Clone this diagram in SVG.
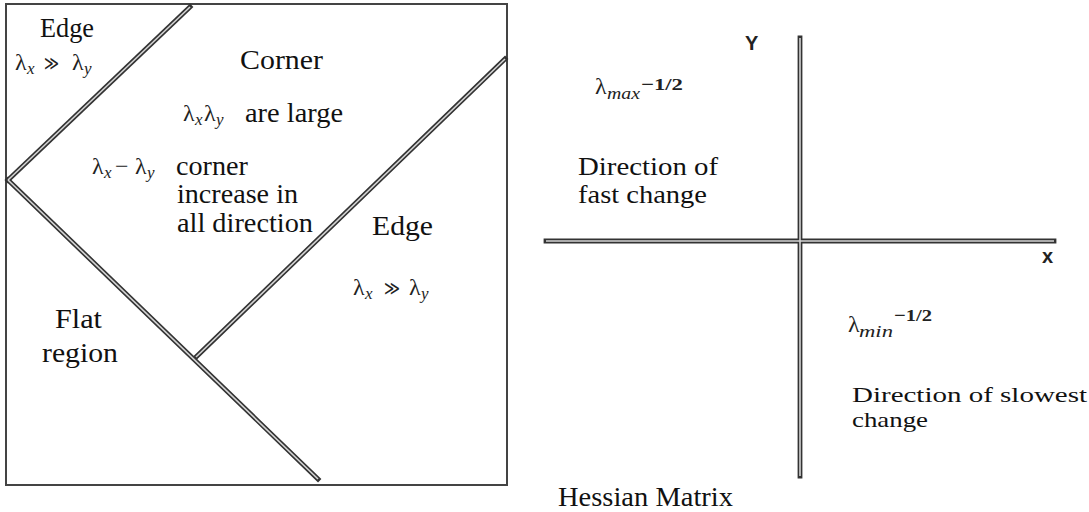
<svg xmlns="http://www.w3.org/2000/svg" xmlns:xlink="http://www.w3.org/1999/xlink" width="1089" height="512" viewBox="0 0 1089 512">
<style>
.t{font-family:"Liberation Serif","Times New Roman","DejaVu Serif",serif;font-size:27px;fill:#111}
.r{font-size:25px}
.q{font-size:22px}
.m{font-family:"Liberation Serif","Times New Roman","DejaVu Serif",serif;font-size:24px;fill:#222}
.s{font-family:"Liberation Serif","Times New Roman","DejaVu Serif",serif;font-style:italic;font-size:17px;fill:#222}
.p{font-family:"Liberation Serif","Times New Roman","DejaVu Serif",serif;font-size:17px;font-weight:bold;fill:#222}
.g{font-family:"DejaVu Sans","Liberation Sans",sans-serif;font-size:20px;fill:#222}
.ax{font-family:"Liberation Sans",Arial,sans-serif;font-size:20px;font-weight:bold;fill:#222}
.o{fill:none;stroke:#333;stroke-width:4.8;stroke-linecap:square}
.i{fill:none;stroke:#d4d4d4;stroke-width:1.6;stroke-linecap:butt}
.box{fill:#fff;stroke:#444;stroke-width:2}
</style>
<defs>
<path id="l1" d="M190,7 L8,180"/>
<path id="l2" d="M8,180 L318,479"/>
<path id="l3" d="M196,357 L505,59"/>
<path id="ay" d="M800,38 L800,476"/>
<path id="ax" d="M546,241 L1054,241"/>
</defs>
<rect width="1089" height="512" fill="#fff"/>
<rect id="frame" class="box" x="6" y="4" width="501" height="481"/>
<g id="connectors">
<use xlink:href="#l1" class="o"/><use xlink:href="#l2" class="o"/><use xlink:href="#l3" class="o"/>
<use xlink:href="#l1" class="i"/><use xlink:href="#l2" class="i"/><use xlink:href="#l3" class="i"/>
<use xlink:href="#ay" class="o"/><use xlink:href="#ax" class="o"/>
<use xlink:href="#ay" class="i"/><use xlink:href="#ax" class="i"/>
</g>
<g id="edge-top-left">
<text class="t" x="40" y="37" textLength="54" lengthAdjust="spacingAndGlyphs">Edge</text>
<text class="m" x="15" y="70">λ</text><text class="s" x="27" y="74">x</text>
<text class="g" x="44" y="70" textLength="15" lengthAdjust="spacingAndGlyphs">≫</text>
<text class="m" x="72" y="70">λ</text><text class="s" x="84" y="74">y</text>
</g>
<g id="corner">
<text class="t" x="240" y="69" textLength="83" lengthAdjust="spacingAndGlyphs">Corner</text>
<text class="m" x="183" y="121">λ</text><text class="s" x="195" y="125">x</text>
<text class="m" x="204" y="121">λ</text><text class="s" x="216" y="125">y</text>
<text class="t" x="245" y="122" textLength="98" lengthAdjust="spacingAndGlyphs">are large</text>
<text class="m" x="92" y="174">λ</text><text class="s" x="104" y="178">x</text>
<text class="m" x="115" y="174">−</text>
<text class="m" x="135" y="174">λ</text><text class="s" x="147" y="178">y</text>
<text class="t" x="176" y="175" textLength="72" lengthAdjust="spacingAndGlyphs">corner</text>
<text class="t" x="177" y="203" textLength="121" lengthAdjust="spacingAndGlyphs">increase in</text>
<text class="t" x="177" y="232" textLength="136" lengthAdjust="spacingAndGlyphs">all direction</text>
</g>
<g id="edge-right">
<text class="t" x="372" y="235" textLength="61" lengthAdjust="spacingAndGlyphs">Edge</text>
<text class="m" x="353" y="295">λ</text><text class="s" x="365" y="299">x</text>
<text class="g" x="384" y="295" textLength="16" lengthAdjust="spacingAndGlyphs">≫</text>
<text class="m" x="409" y="295">λ</text><text class="s" x="421" y="299">y</text>
</g>
<g id="flat-region">
<text class="t" x="55" y="328" textLength="47" lengthAdjust="spacingAndGlyphs">Flat</text>
<text class="t" x="42" y="362" textLength="76" lengthAdjust="spacingAndGlyphs">region</text>
</g>
<g id="axis-labels">
<text class="ax" x="745" y="50">Y</text>
<text class="ax" x="1042" y="263">x</text>
</g>
<g id="fast-change">
<text class="m" x="595" y="94">λ</text>
<text class="s" x="607" y="99" textLength="33" lengthAdjust="spacingAndGlyphs">max</text>
<text class="p" x="641" y="90" textLength="42" lengthAdjust="spacingAndGlyphs">−1/2</text>
<text class="t r" x="578" y="175" textLength="140" lengthAdjust="spacingAndGlyphs">Direction of</text>
<text class="t r" x="578" y="203" textLength="129" lengthAdjust="spacingAndGlyphs">fast change</text>
</g>
<g id="slow-change">
<text class="m" x="848" y="332">λ</text>
<text class="s" x="859" y="337" textLength="34" lengthAdjust="spacingAndGlyphs">min</text>
<text class="p" x="894" y="321" textLength="38" lengthAdjust="spacingAndGlyphs">−1/2</text>
<text class="t q" x="852" y="402" textLength="235" lengthAdjust="spacingAndGlyphs">Direction of slowest</text>
<text class="t q" x="852" y="427" textLength="76" lengthAdjust="spacingAndGlyphs">change</text>
</g>
<g id="title">
<text class="t" x="558" y="506" textLength="175" lengthAdjust="spacingAndGlyphs">Hessian Matrix</text>
</g>
</svg>
